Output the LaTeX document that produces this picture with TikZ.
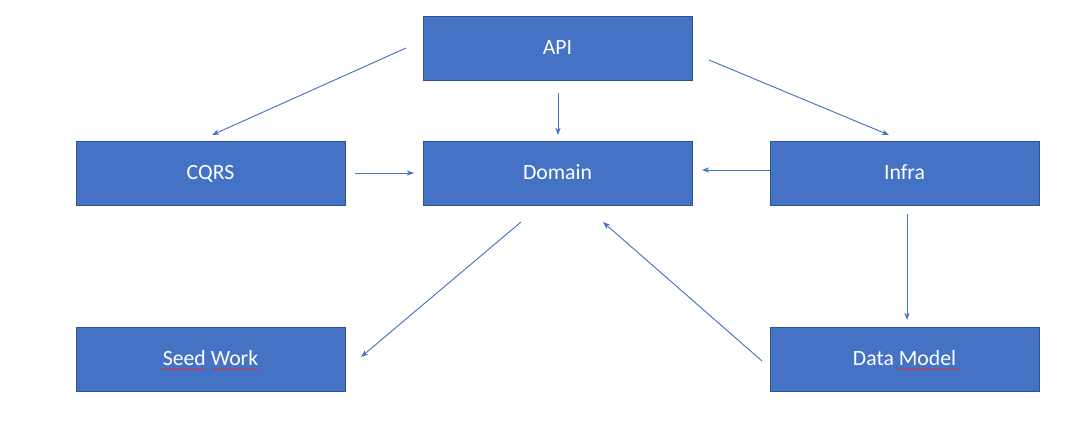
\documentclass[tikz,border=0pt]{standalone}
\usepackage{fontspec}
\setmainfont{Carlito}
\usetikzlibrary{arrows.meta,decorations.pathmorphing}
\definecolor{boxblue}{HTML}{4472C4}
\definecolor{boxedge}{HTML}{2F528F}
\definecolor{squig}{HTML}{E03030}
\tikzset{
  layer/.style={draw=boxedge, line width=0.6pt, fill=boxblue, text=white,
    minimum width=201.75pt, minimum height=48pt, inner sep=0pt,
    text height=11.5pt, text depth=2pt,
    font=\fontsize{16.3}{19}\selectfont},
  dep/.style={draw=boxblue, line width=0.7pt, -{Stealth[length=5.5pt,width=4pt]}},
  spell/.style={draw=squig, line width=0.45pt, decorate,
    decoration={snake, amplitude=0.5pt, segment length=2.2pt}}
}
\begin{document}
\begin{tikzpicture}[x=0.75pt,y=-0.75pt]
        \useasboundingbox (0,0) rectangle (1084,436);
        \node[layer] (api) at (557.5,48) {API};
        \node[layer] (cqrs) at (210.5,173) {CQRS};
        \node[layer] (domain) at (557.5,173) {Domain};
        \node[layer] (infra) at (904.5,173) {Infra};
        \node[layer] (seed) at (210.5,359) {Seed Work};
        \node[layer] (model) at (904.5,359) {Data Model};
        % arrow ends, floating in the gaps
        \coordinate (a1) at (406,48);
        \coordinate (a2) at (212,135);
        \coordinate (b1) at (558,93);
        \coordinate (b2) at (558,135);
        \coordinate (c1) at (709,60);
        \coordinate (c2) at (889,135);
        \coordinate (d1) at (355,173);
        \coordinate (d2) at (414,173);
        \coordinate (e1) at (770,170);
        \coordinate (e2) at (702,170);
        \coordinate (f1) at (521,222);
        \coordinate (f2) at (361,357);
        \coordinate (g1) at (762,361);
        \coordinate (g2) at (603,222);
        \coordinate (h1) at (907,214);
        \coordinate (h2) at (907,320);
        \draw[dep] (a1) -- (a2);
        \draw[dep] (b1) -- (b2);
        \draw[dep] (c1) -- (c2);
        \draw[dep] (d1) -- (d2);
        \draw[dep] (e1) -- (e2);
        \draw[dep] (f1) -- (f2);
        \draw[dep] (g1) -- (g2);
        \draw[dep] (h1) -- (h2);
        % spell check marks
        \draw[spell] (162,369) -- (205,369);
        \draw[spell] (212,369) -- (258,369);
        \draw[spell] (898,369) -- (959,369);
    \end{tikzpicture}
\end{document}
